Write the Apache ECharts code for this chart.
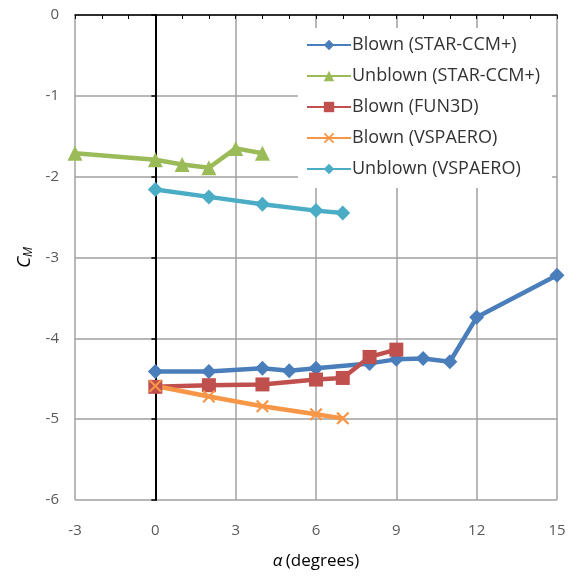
<!DOCTYPE html>
<html>
<head>
<meta charset="utf-8">
<script src="https://cdn.jsdelivr.net/npm/echarts@6/dist/echarts.min.js"></script>
<style>html,body{margin:0;padding:0;background:#fff}#c{width:578px;height:577px}</style>
</head>
<body>
<div id="c"></div>
<script>
const blownStarAlpha = [0, 2, 4, 5, 6, 8, 9, 10, 11, 12, 15];
const blownStarCm    = [-4.41, -4.41, -4.37, -4.40, -4.37, -4.31, -4.26, -4.25, -4.29, -3.74, -3.22];
const unblownStarAlpha = [-3, 0, 1, 2, 3, 4];
const unblownStarCm    = [-1.71, -1.79, -1.85, -1.89, -1.65, -1.71];
const blownFun3dAlpha = [0, 2, 4, 6, 7, 8, 9];
const blownFun3dCm    = [-4.60, -4.58, -4.57, -4.51, -4.49, -4.23, -4.14];
const blownVspAlpha = [0, 2, 4, 6, 7];
const blownVspCm    = [-4.59, -4.72, -4.84, -4.94, -4.99];
const unblownVspAlpha = [0, 2, 4, 6, 7];
const unblownVspCm    = [-2.16, -2.25, -2.34, -2.42, -2.45];
const seriesNames = ['Blown (STAR-CCM+)', 'Unblown (STAR-CCM+)', 'Blown (FUN3D)', 'Blown (VSPAERO)', 'Unblown (VSPAERO)'];
const xTicks = { min: -3, max: 15, interval: 3 };
const yTicks = { min: -6, max: 0, interval: 1 };

const pair = (xs, ys) => xs.map((x, i) => [x, ys[i]]);
const FONT = '"Open Sans", "Noto Sans", sans-serif';
const crossPath = 'path://M0,1.2 L1.2,0 L5,3.8 L8.8,0 L10,1.2 L6.2,5 L10,8.8 L8.8,10 L5,6.2 L1.2,10 L0,8.8 L3.8,5 Z';

function mk(name, data, color, symbol, size) {
  return {
    name, type: 'line', data, symbol, symbolSize: size,
    lineStyle: { color, width: 4.5 },
    itemStyle: { color },
    showSymbol: true, animation: false
  };
}

const chart = echarts.init(document.getElementById('c'));
chart.setOption({
  animation: false,
  grid: { left: 75, right: 21, top: 15, bottom: 77, containLabel: false },
  xAxis: [{
    type: 'value', min: xTicks.min, max: xTicks.max, interval: xTicks.interval,
    position: 'bottom',
    axisLine: { show: false, onZero: false },
    axisTick: { show: false },
    axisLabel: { color: '#595959', fontSize: 15, fontFamily: FONT, margin: 23 },
    splitLine: { show: true, lineStyle: { color: '#a0a0a0', width: 1.5 } },
    name: '{a|α} {b|(degrees)}', nameLocation: 'middle', nameGap: 53,
    nameTextStyle: { rich: {
      a: { fontSize: 17, fontStyle: 'italic', color: '#000', fontFamily: FONT },
      b: { fontSize: 17, color: '#000', fontFamily: FONT }
    } }
  }, {
    type: 'value', min: xTicks.min, max: xTicks.max, interval: xTicks.interval,
    position: 'top',
    axisLine: { show: true, onZero: false, lineStyle: { color: '#000', width: 1.5 } },
    axisTick: { show: true, inside: true, length: 4, lineStyle: { color: '#000' } },
    minorTick: { show: true, splitNumber: 3, length: 4, lineStyle: { color: '#000' } },
    axisLabel: { show: false },
    splitLine: { show: false }
  }],
  yAxis: [{
    type: 'value', min: yTicks.min, max: yTicks.max, interval: yTicks.interval,
    position: 'left',
    axisLine: { show: false, onZero: false },
    axisTick: { show: false },
    axisLabel: { color: '#595959', fontSize: 15, fontFamily: FONT, margin: 16 },
    splitLine: { show: true, lineStyle: { color: '#a0a0a0', width: 1.5 } },
    name: '{c|C}{m|M}', nameLocation: 'middle', nameGap: 33, nameRotate: 90,
    nameTextStyle: { rich: {
      c: { fontSize: 19, fontStyle: 'italic', color: '#000', fontFamily: FONT },
      m: { fontSize: 12, fontStyle: 'italic', color: '#000', fontFamily: FONT, padding: [9, 0, 0, 0] }
    } }
  }, {
    type: 'value', min: yTicks.min, max: yTicks.max, interval: yTicks.interval,
    position: 'left',
    axisLine: { show: true, onZero: true, onZeroAxisIndex: 0, lineStyle: { color: '#000', width: 2 } },
    axisTick: { show: true, length: 4, lineStyle: { color: '#000', width: 1.5 } },
    axisLabel: { show: false },
    splitLine: { show: false }
  }],
  legend: {
    orient: 'vertical', left: 298, top: 28,
    backgroundColor: '#fff', padding: [8, 12, 10, 8],
    itemWidth: 44, itemHeight: 13, itemGap: 13,
    textStyle: { color: '#333', fontSize: 18, fontFamily: FONT, padding: [0, 0, 0, -4] },
    data: seriesNames
  },
  series: [
    mk(seriesNames[0], pair(blownStarAlpha, blownStarCm), '#4A7EBB', 'diamond', 15),
    mk(seriesNames[1], pair(unblownStarAlpha, unblownStarCm), '#9BBB59', 'triangle', 15),
    mk(seriesNames[2], pair(blownFun3dAlpha, blownFun3dCm), '#C0504D', 'rect', 14),
    mk(seriesNames[3], pair(blownVspAlpha, blownVspCm), '#F79646', crossPath, 13),
    mk(seriesNames[4], pair(unblownVspAlpha, unblownVspCm), '#4BACC6', 'diamond', 15)
  ]
});
</script>
</body>
</html>
